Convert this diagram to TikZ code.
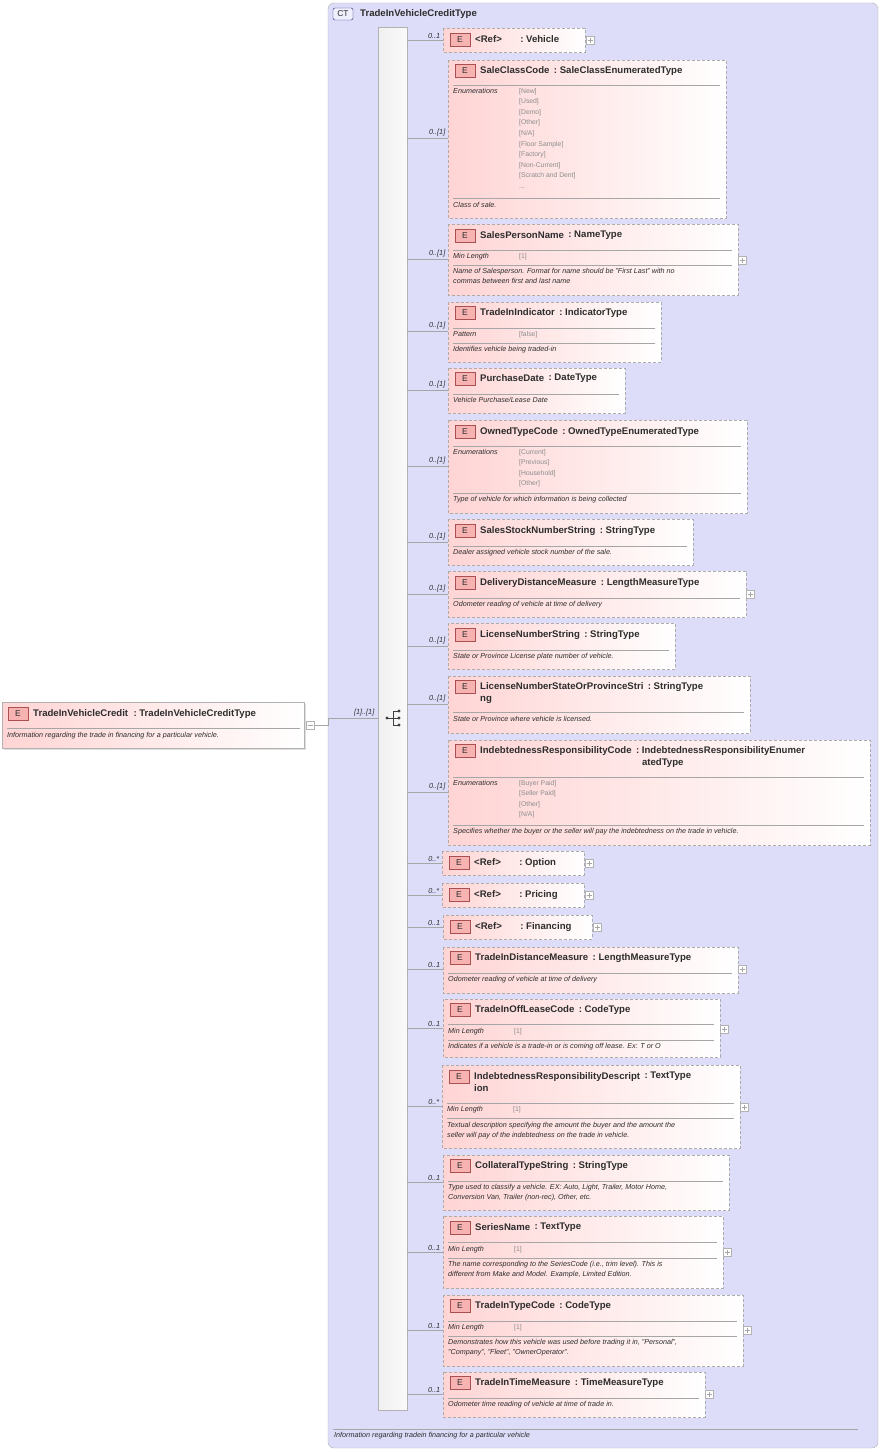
\documentclass[tikz,border=0pt]{standalone}
\usepackage{fontspec}
\setmainfont{Liberation Sans}
\usetikzlibrary{shadows}
\definecolor{ctfill}{RGB}{221,221,250}
\definecolor{epink}{RGB}{255,212,212}
\definecolor{badgef}{RGB}{247,178,178}
\definecolor{badged}{RGB}{170,80,80}
\definecolor{txt}{RGB}{45,45,45}
\tikzset{
 ebox/.style={draw=gray!65,dash pattern=on 3pt off 2pt,left color=epink,right color=white},
 conn/.style={draw=gray!70,line width=0.6pt},
 card/.style={font=\fontsize{7.3}{8}\itshape,inner sep=0.5pt,text=txt},
 badge/.style={draw=badged,fill=badgef,minimum width=20pt,minimum height=13pt,inner sep=0,font=\fontsize{8.5}{9}\selectfont,text=txt},
 ttl/.style={font=\fontsize{9.6}{12}\bfseries,inner sep=0,align=left,text=txt},
 dsc/.style={font=\fontsize{7.2}{9.8}\itshape,inner sep=0,align=left,text=txt},
 vals/.style={font=\fontsize{6.8}{10.6}\selectfont,inner sep=0,align=left,text=gray!90},
 sepl/.style={draw=gray!70,line width=0.5pt},
 plusb/.style={draw=gray!60,fill=white,line width=0.4pt}
}
\newcommand\EB[9]{%
 \draw[ebox] (#1,#2) rectangle (#3,#4);
 \coordinate (cl) at (407,#5); \coordinate (cr) at (#1,#5);
 \draw[conn] (cl) -- (cr);
 \node[card,anchor=south east] (cd) at (#1-2,#5-1) {#6};
 \node[badge] (bd) at (#1+17,#7) {E};
 \node[ttl,anchor=north west] (tn) at (#1+32,#7-5) {#8};
 \node[ttl,anchor=north west] (tt) at ([xshift=4pt]tn.north east) {:\ #9};
}
\newcommand\SP[3]{\draw[sepl] (#1+5,#3) -- (#2-6,#3);}
\newcommand\DS[3]{\node[dsc,anchor=north west] (ds) at (#1+5,#2-4) {#3};}
\newcommand\KV[4]{\node[dsc,anchor=north west] (kk) at (#1+5,#2-4) {#3};
 \node[vals,anchor=north west] (kv) at (#1+71,#2-4) {#4};}
\newcommand\PL[2]{\draw[plusb] (#1-4,#2-4) rectangle (#1+4,#2+4);
 \draw[gray!70,line width=0.4pt] (#1-2.5,#2) -- (#1+2.5,#2) (#1,#2-2.5) -- (#1,#2+2.5);}
\begin{document}
\begin{tikzpicture}[x=1pt,y=-1pt]
\useasboundingbox (0,0) rectangle (883,1452);
% container
\draw[draw=gray!60,fill=ctfill,rounded corners=6pt] (328,3) rectangle (878,1448);
\node[draw=gray!50!blue!60!black,fill=ctfill!80!blue!20,rounded corners=2pt,minimum width=20pt,minimum height=12pt,inner sep=0,font=\fontsize{8.5}{9}\selectfont,text=txt] (ct) at (343,14) {CT};
\node[ttl,anchor=west] (ctt) at (360,14) {TradeInVehicleCreditType};
\draw[sepl] (333,1429) -- (858,1429);
\node[dsc,anchor=north west] (ctd) at (334,1432) {Information regarding tradein financing for a particular vehicle};
% sequence bar
\draw[draw=gray!60,left color=gray!12,right color=gray!4] (378,27) rectangle (407,1410);
\coordinate (sq) at (393,718);
\fill[black!75] (387,718) circle (1.6pt);
\draw[black!75,line width=0.7pt] (387,718) -- (393,718) (393,711) -- (393,725) (393,711) -- (399,711) (393,718) -- (399,718) (393,725) -- (399,725);
\fill[black!75] (399,711) circle (1.6pt) (399,718) circle (1.6pt) (399,725) circle (1.6pt);
% left element
\draw[draw=gray!60,left color=epink,right color=white,drop shadow={opacity=0.25,shadow xshift=1.5pt,shadow yshift=-1.5pt}] (2,702) rectangle (304,748);
\node[badge] (lb) at (18,714) {E};
\node[ttl,anchor=west] (lt) at (33,714) {TradeInVehicleCredit\ \ :\ TradeInVehicleCreditType};
\draw[sepl] (7,728) -- (300,728);
\node[dsc,anchor=west] (ld) at (7,736) {Information regarding the trade in financing for a particular vehicle.};
\draw[plusb] (306,721) rectangle (314,729); \draw[gray!70,line width=0.4pt] (307.5,725) -- (312.5,725);
\coordinate (m1) at (314,725); \coordinate (m2) at (378,718);
\draw[conn] (m1) -- (328,725) -- (328,718) -- (m2);
\node[card,anchor=south east] (c0) at (375,717) {[1]..[1]};
% 1
\EB{443}{28}{585}{52}{40}{0..1}{40}{<Ref>\hspace{14pt}}{Vehicle}\PL{590}{40}
% 2
\EB{448}{60}{726}{218}{138}{0..[1]}{71}{SaleClassCode}{SaleClassEnumeratedType}
\SP{448}{726}{85}
\KV{448}{92}{Enumerations}{[New]\\{}[Used]\\{}[Demo]\\{}[Other]\\{}[N/A]\\{}[Floor Sample]\\{}[Factory]\\{}[Non-Current]\\{}[Scratch and Dent]\\{}...}
\SP{448}{726}{198}\DS{448}{206}{Class of sale.}
% 3
\EB{448}{224}{738}{295}{259}{0..[1]}{236}{SalesPersonName}{NameType}\PL{742}{260}
\SP{448}{738}{250}\KV{448}{257}{Min Length}{[1]}\SP{448}{738}{265}
\DS{448}{272}{Name of Salesperson. Format for name should be "First Last" with no\\commas between first and last name}
% 4
\EB{448}{302}{661}{362}{331}{0..[1]}{313}{TradeInIndicator}{IndicatorType}
\SP{448}{661}{328}\KV{448}{335}{Pattern}{[false]}\SP{448}{661}{343}
\DS{448}{350}{Identifies vehicle being traded-in}
% 5
\EB{448}{368}{625}{413}{390}{0..[1]}{379}{PurchaseDate}{DateType}
\SP{448}{625}{394}\DS{448}{401}{Vehicle Purchase/Lease Date}
% 6
\EB{448}{420}{747}{513}{466}{0..[1]}{432}{OwnedTypeCode}{OwnedTypeEnumeratedType}
\SP{448}{747}{446}\KV{448}{453}{Enumerations}{[Current]\\{}[Previous]\\{}[Household]\\{}[Other]}
\SP{448}{747}{493}\DS{448}{500}{Type of vehicle for which information is being collected}
% 7
\EB{448}{519}{693}{565}{542}{0..[1]}{531}{SalesStockNumberString}{StringType}
\SP{448}{693}{546}\DS{448}{553}{Dealer assigned vehicle stock number of the sale.}
% 8
\EB{448}{571}{746}{617}{594}{0..[1]}{583}{DeliveryDistanceMeasure}{LengthMeasureType}\PL{750}{594}
\SP{448}{746}{598}\DS{448}{605}{Odometer reading of vehicle at time of delivery}
% 9
\EB{448}{623}{675}{669}{646}{0..[1]}{635}{LicenseNumberString}{StringType}
\SP{448}{675}{650}\DS{448}{657}{State or Province License plate number of vehicle.}
% 10
\EB{448}{676}{750}{733}{704}{0..[1]}{687}{LicenseNumberStateOrProvinceStri\\ng}{StringType}
\SP{448}{750}{712}\DS{448}{720}{State or Province where vehicle is licensed.}
% 11
\EB{448}{740}{870}{845}{792}{0..[1]}{751}{IndebtednessResponsibilityCode}{IndebtednessResponsibilityEnumer\\\hspace*{6pt}atedType}
\SP{448}{870}{777}\KV{448}{784}{Enumerations}{[Buyer Paid]\\{}[Seller Paid]\\{}[Other]\\{}[N/A]}
\SP{448}{870}{825}\DS{448}{832}{Specifies whether the buyer or the seller will pay the indebtedness on the trade in vehicle.}
% 12-14
\EB{442}{851}{584}{875}{863}{0..*}{863}{<Ref>\hspace{14pt}}{Option}\PL{589}{863}
\EB{442}{883}{584}{907}{895}{0..*}{895}{<Ref>\hspace{14pt}}{Pricing}\PL{589}{895}
\EB{443}{915}{592}{939}{927}{0..1}{927}{<Ref>\hspace{14pt}}{Financing}\PL{597}{927}
% 15
\EB{443}{947}{738}{993}{969}{0..1}{958}{TradeInDistanceMeasure}{LengthMeasureType}\PL{742}{969}
\SP{443}{738}{973}\DS{443}{980}{Odometer reading of vehicle at time of delivery}
% 16
\EB{443}{999}{720}{1057}{1028}{0..1}{1010}{TradeInOffLeaseCode}{CodeType}\PL{724}{1029}
\SP{443}{720}{1024}\KV{443}{1032}{Min Length}{[1]}\SP{443}{720}{1040}
\DS{443}{1047}{Indicates if a vehicle is a trade-in or is coming off lease. Ex: T or O}
% 17
\EB{442}{1065}{740}{1148}{1106}{0..*}{1077}{IndebtednessResponsibilityDescript\\ion}{TextType}\PL{744}{1107}
\SP{442}{740}{1103}\KV{442}{1110}{Min Length}{[1]}\SP{442}{740}{1118}
\DS{442}{1126}{Textual description specifying the amount the buyer and the amount the\\seller will pay of the indebtedness on the trade in vehicle.}
% 18
\EB{443}{1155}{729}{1210}{1182}{0..1}{1166}{CollateralTypeString}{StringType}
\SP{443}{729}{1181}\DS{443}{1188}{Type used to classify a vehicle. EX: Auto, Light, Trailer, Motor Home,\\Conversion Van, Trailer (non-rec), Other, etc.}
% 19
\EB{443}{1216}{723}{1288}{1252}{0..1}{1228}{SeriesName}{TextType}\PL{727}{1252}
\SP{443}{723}{1242}\KV{443}{1250}{Min Length}{[1]}\SP{443}{723}{1258}
\DS{443}{1265}{The name corresponding to the SeriesCode (i.e., trim level). This is\\different from Make and Model. Example, Limited Edition.}
% 20
\EB{443}{1295}{743}{1366}{1330}{0..1}{1306}{TradeInTypeCode}{CodeType}\PL{747}{1330}
\SP{443}{743}{1321}\KV{443}{1328}{Min Length}{[1]}\SP{443}{743}{1336}
\DS{443}{1343}{Demonstrates how this vehicle was used before trading it in, "Personal",\\"Company", "Fleet", "OwnerOperator".}
% 21
\EB{443}{1372}{705}{1417}{1394}{0..1}{1383}{TradeInTimeMeasure}{TimeMeasureType}\PL{709}{1394}
\SP{443}{705}{1398}\DS{443}{1405}{Odometer time reading of vehicle at time of trade in.}
\end{tikzpicture}
\end{document}
